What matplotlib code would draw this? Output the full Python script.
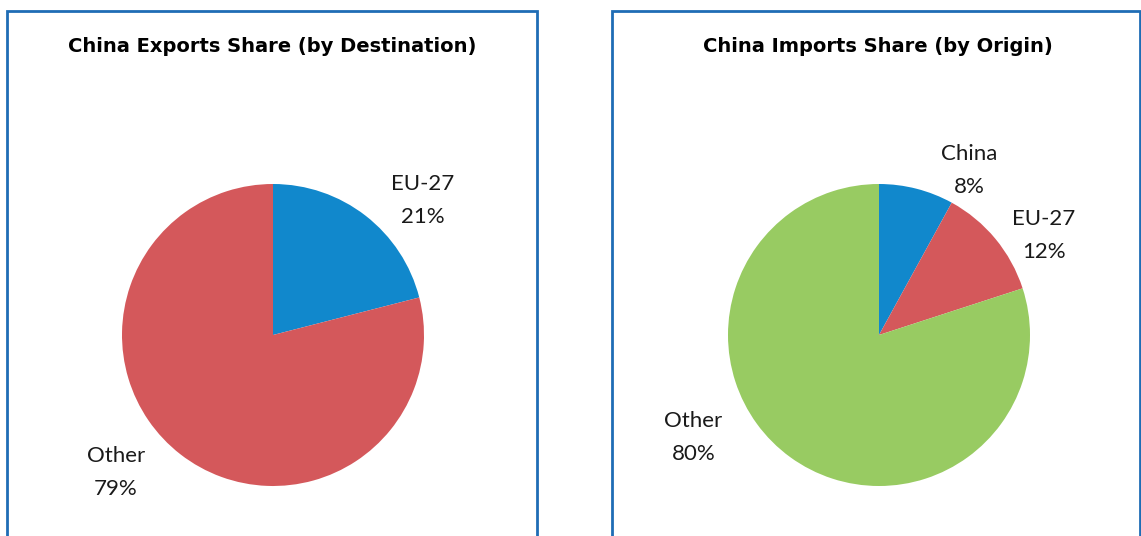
import matplotlib
matplotlib.use("Agg")
import matplotlib.pyplot as plt
from matplotlib.patches import Rectangle

# Datos
exp_labels = ["EU-27", "Other"]
exp_share = [21, 79]
exp_colors = ["#1188cc", "#d4585b"]

imp_labels = ["China", "EU-27", "Other"]
imp_share = [8, 12, 80]
imp_colors = ["#1188cc", "#d4585b", "#98cb62"]

W, H = 1141, 536
fig = plt.figure(figsize=(W / 100, H / 100), dpi=100)
fig.patch.set_facecolor("white")

borde = "#1f6db5"
# Recuadros de cada panel (se cortan por abajo)
for x0, x1 in [(7, 537), (612, 1140)]:
    fig.patches.append(Rectangle((x0 / W, -0.05), (x1 - x0) / W, (H - 11) / H + 0.05,
                                 transform=fig.transFigure, fill=False,
                                 edgecolor=borde, linewidth=2))

def panel(cx, cy, r, valores, colores, etiquetas, posiciones, titulo, tx):
    lado = 2.5 * r
    ax = fig.add_axes([(cx - lado / 2) / W, 1 - (cy + lado / 2) / H, lado / W, lado / H])
    ax.pie(valores, colors=colores, startangle=90, counterclock=False,
           wedgeprops=dict(linewidth=0))
    ax.set_xlim(-1.25, 1.25)
    ax.set_ylim(-1.25, 1.25)
    ax.set_aspect("equal")
    for lab, v, (px, py) in zip(etiquetas, valores, posiciones):
        ax.text(px, py, f"{lab}\n{v}%", ha="center", va="center", fontsize=16,
                family="Lato", fontweight="normal", linespacing=1.8,
                color="#1a1a1a", clip_on=False)
    fig.text(tx / W, 1 - 47 / H, titulo, ha="center", va="center", fontsize=14,
             family="DejaVu Sans", fontweight="bold", color="black")

panel(273, 335, 151, exp_share, exp_colors, exp_labels,
      [(0.99, 0.89), (-1.04, -0.91)], "China Exports Share (by Destination)", 272)
panel(879, 335, 151, imp_share, imp_colors, imp_labels,
      [(0.60, 1.09), (1.09, 0.66), (-1.23, -0.68)], "China Imports Share (by Origin)", 878)

fig.savefig("out.png", dpi=100, facecolor="white")
